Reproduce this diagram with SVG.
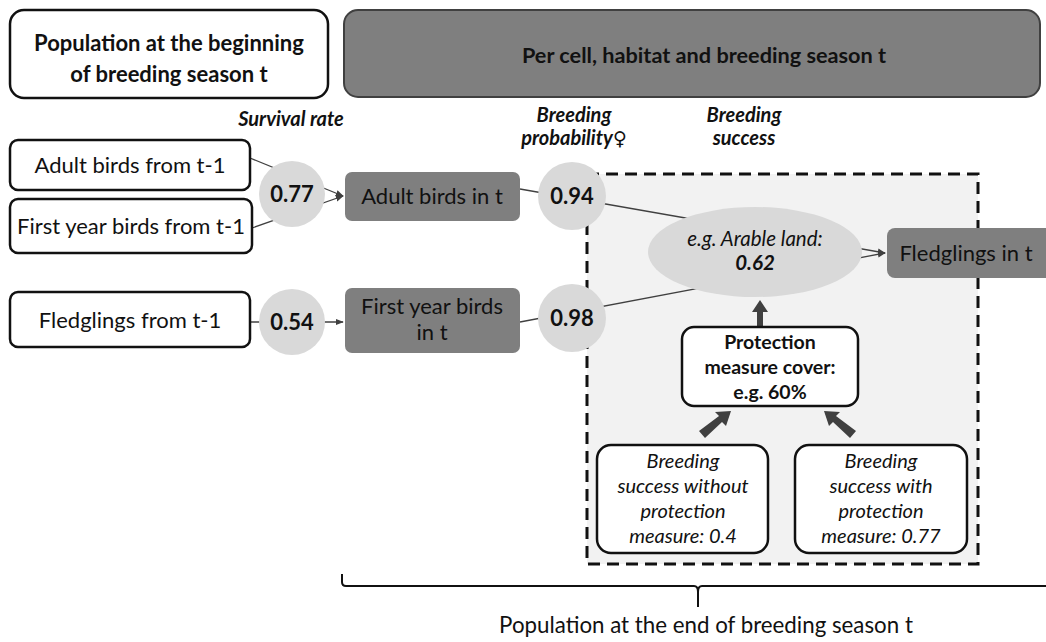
<svg xmlns="http://www.w3.org/2000/svg" width="1046" height="642" viewBox="0 0 1046 642">
<style>
text{font-family:Lato,"Liberation Sans",sans-serif;fill:#111;text-anchor:middle}
.wb{fill:#fff;stroke:#111;stroke-width:2.5}
.db{fill:#7f7f7f;stroke:none}
.c{fill:#d9d9d9}
.n{font-size:22px}
.b{font-weight:bold}
.i{font-style:italic}
.ln{stroke:#404040;stroke-width:1.3;fill:none}
.thick{fill:#404040}
</style>
<defs>
<marker id="ah" viewBox="0 0 10 10" refX="9" refY="5" markerWidth="8" markerHeight="8" markerUnits="userSpaceOnUse" orient="auto">
<path d="M0,1 L10,5 L0,9 z" fill="#404040"/>
</marker>
</defs>
<rect width="1046" height="642" fill="#fff"/>

<g id="dashed-region">
<rect x="587" y="174" width="391" height="390" fill="#f2f2f2" stroke="#111" stroke-width="3" stroke-dasharray="12 7"/>
</g>

<g id="connectors">
<line class="ln" x1="250" y1="158" x2="343" y2="196" marker-end="url(#ah)"/>
<line class="ln" x1="252" y1="228" x2="343" y2="196" marker-end="url(#ah)"/>
<line class="ln" x1="250" y1="322" x2="343" y2="322" marker-end="url(#ah)"/>
<line class="ln" x1="520" y1="189" x2="885" y2="253" marker-end="url(#ah)"/>
<line class="ln" x1="520" y1="322" x2="885" y2="253" marker-end="url(#ah)"/>
<path class="thick" d="M757,326 L757,312 L752,312 L760,300 L768,312 L763,312 L763,326 z"/>
<path class="thick" d="M699,431 L719,416 L715,412 L731,411 L726,426 L722,422 L705,438 z"/>
<path class="thick" d="M856,431 L836,416 L840,412 L824,411 L829,426 L833,422 L850,438 z"/>
</g>

<g id="title-left">
<rect class="wb" x="10" y="10" width="318" height="88" rx="14"/>
<text class="b" font-size="22" x="169" y="51">Population at the beginning</text>
<text class="b" font-size="22" x="169" y="82">of breeding season t</text>
</g>

<g id="title-right">
<rect x="344" y="10" width="696" height="87" rx="14" fill="#7f7f7f" stroke="#404040" stroke-width="2"/>
<text class="b" font-size="21.7" x="704" y="63">Per cell, habitat and breeding season t</text>
</g>

<g id="labels">
<text class="b i" font-size="20" x="291" y="126">Survival rate</text>
<text class="b i" font-size="20" x="574" y="122">Breeding</text>
<text class="b i" font-size="20" x="574" y="145">probability<tspan font-family="'DejaVu Sans',sans-serif" font-size="19" font-weight="normal">♀</tspan></text>
<text class="b i" font-size="20" x="744" y="122">Breeding</text>
<text class="b i" font-size="20" x="744" y="145">success</text>
</g>

<g id="adult-prev">
<rect class="wb" x="10" y="140" width="240" height="50" rx="8"/>
<text class="n" x="130" y="173">Adult birds from t-1</text>
</g>
<g id="first-year-prev">
<rect class="wb" x="10" y="199" width="242" height="54" rx="8"/>
<text class="n" x="131" y="234">First year birds from t-1</text>
</g>
<g id="fledglings-prev">
<rect class="wb" x="10" y="292" width="240" height="55" rx="8"/>
<text class="n" x="130" y="328">Fledglings from t-1</text>
</g>

<g id="c077"><circle class="c" cx="292" cy="194" r="33"/><text class="b" font-size="22" x="292" y="202">0.77</text></g>
<g id="c054"><circle class="c" cx="292" cy="322" r="33"/><text class="b" font-size="22" x="292" y="330">0.54</text></g>

<g id="adult-t">
<rect class="db" x="345" y="172" width="175" height="49" rx="7"/>
<text class="n" x="432" y="204">Adult birds in t</text>
</g>
<g id="first-year-t">
<rect class="db" x="345" y="288" width="175" height="65" rx="7"/>
<text class="n" x="432" y="314">First year birds</text>
<text class="n" x="432" y="340">in t</text>
</g>

<g id="c094"><circle class="c" cx="572" cy="196" r="34"/><text class="b" font-size="22" x="572" y="204">0.94</text></g>
<g id="c098"><circle class="c" cx="572" cy="318" r="34"/><text class="b" font-size="22" x="572" y="326">0.98</text></g>

<g id="arable">
<ellipse class="c" cx="755" cy="252" rx="107" ry="45"/>
<text class="i" font-size="20.5" x="755" y="246">e.g. Arable land:</text>
<text class="b i" font-size="20.5" x="755" y="270">0.62</text>
</g>

<g id="fledglings-t">
<rect class="db" x="887" y="228" width="170" height="50" rx="8"/>
<text class="n" x="966" y="261">Fledglings in t</text>
</g>

<g id="protection">
<rect class="wb" x="682" y="327" width="176" height="79" rx="12"/>
<text class="b" font-size="19.5" x="770" y="349">Protection</text>
<text class="b" font-size="19.5" x="770" y="374">measure cover:</text>
<text class="b" font-size="19.5" x="770" y="399">e.g. 60%</text>
</g>

<g id="without">
<rect class="wb" x="597" y="445" width="171" height="108" rx="14"/>
<text class="i" font-size="20" x="683" y="468">Breeding</text>
<text class="i" font-size="20" x="683" y="493">success without</text>
<text class="i" font-size="20" x="683" y="518">protection</text>
<text class="i" font-size="20" x="683" y="543">measure: 0.4</text>
</g>

<g id="with">
<rect class="wb" x="795" y="445" width="172" height="108" rx="14"/>
<text class="i" font-size="20" x="881" y="468">Breeding</text>
<text class="i" font-size="20" x="881" y="493">success with</text>
<text class="i" font-size="20" x="881" y="518">protection</text>
<text class="i" font-size="20" x="881" y="543">measure: 0.77</text>
</g>

<g id="brace">
<path d="M342,574 L342,582 Q342,586 346,586 L694,586 Q698,586 698,592 L698,607 M698,592 Q698,586 702,586 L1046,586" fill="none" stroke="#111" stroke-width="2"/>
<text font-size="22.3" x="706" y="633">Population at the end of breeding season t</text>
</g>
</svg>
